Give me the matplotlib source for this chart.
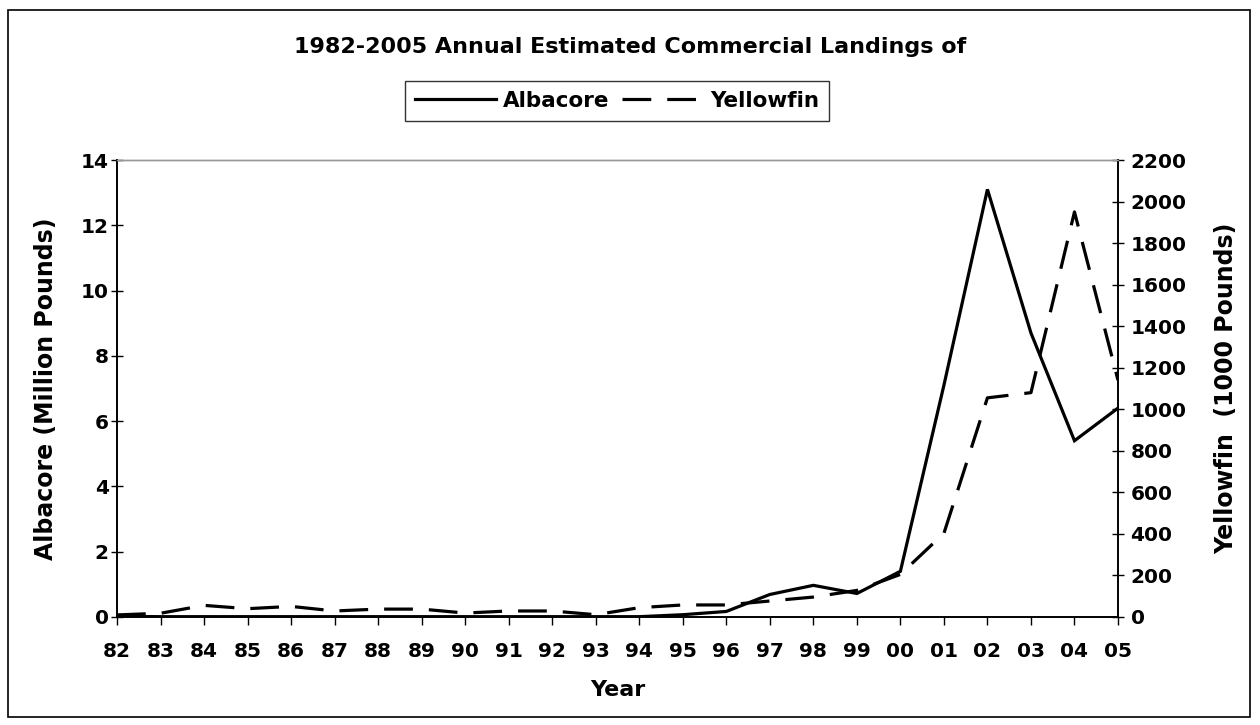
import matplotlib
matplotlib.use('Agg')
import matplotlib.pyplot as plt
from matplotlib.patches import Rectangle

years = ['82', '83', '84', '85', '86', '87', '88', '89', '90', '91', '92', '93',
         '94', '95', '96', '97', '98', '99', '00', '01', '02', '03', '04', '05']
# Albacore, million pounds
albacore = [0.02, 0.01, 0.01, 0.01, 0.01, 0.01, 0.01, 0.01, 0.01, 0.01, 0.01, 0.01,
            0.01, 0.07, 0.17, 0.69, 0.97, 0.72, 1.4, 7.1, 13.1, 8.7, 5.4, 6.4]
# Yellowfin, 1000 pounds
yellowfin = [10, 18, 56, 40, 51, 29, 38, 38, 19, 29, 29, 11,
             45, 58, 58, 77, 96, 128, 205, 403, 1055, 1080, 1950, 1140]

plt.rcParams['font.family'] = 'DejaVu Sans'
plt.rcParams['font.weight'] = 'bold'

fig = plt.figure(figsize=(12.6, 7.25), dpi=100)
ax = fig.add_axes([117/1260, 1-617/725, (1118-117)/1260, (617-160)/725])
ax2 = ax.twinx()

x = list(range(len(years)))
l1, = ax.plot(x, albacore, color='black', lw=2.3, solid_joinstyle='miter')
l2, = ax2.plot(x, yellowfin, color='black', lw=2.3, dashes=(9, 5))

ax.set_xlim(0, len(years) - 1)
ax.set_ylim(0, 14)
ax2.set_ylim(0, 2200)
ax.set_yticks(range(0, 15, 2))
ax2.set_yticks(range(0, 2201, 200))
ax.set_xticks(x)
ax.set_xticklabels(years)

for a in (ax, ax2):
    a.tick_params(labelsize=14.5, width=1, length=8, direction='inout', pad=5)
    a.spines['top'].set_color('#999999')
    a.spines['top'].set_linewidth(1)
    for s in ('left', 'right', 'bottom'):
        a.spines[s].set_linewidth(1.2)
ax.tick_params(axis='x', direction='out', length=6, pad=12)
ax.tick_params(axis='y', pad=2)
for lab in ax.get_xticklabels() + ax.get_yticklabels() + ax2.get_yticklabels():
    lab.set_fontweight('bold')

ax.set_ylabel('Albacore (Million Pounds)', fontsize=17, fontweight='bold', labelpad=16)
ax2.set_ylabel('Yellowfin  (1000 Pounds)', fontsize=17, fontweight='bold', labelpad=20)
ax.set_xlabel('Year', fontsize=16, fontweight='bold', labelpad=14)

fig.text(630/1260, 1-47/725, '1982-2005 Annual Estimated Commercial Landings of',
         ha='center', va='center', fontsize=16, fontweight='bold')

leg = fig.legend([l1, l2], ['Albacore', 'Yellowfin'], loc='center',
                 bbox_to_anchor=(617/1260, 1-101/725), ncol=2, fancybox=False,
                 edgecolor='black', handlelength=3.8,
                 columnspacing=0.6, handletextpad=0.3, borderpad=0.45,
                 prop={'weight': 'bold', 'size': 15.5})
leg.get_frame().set_linewidth(1)

fig.patches.append(Rectangle((8/1260, 8/725), 1242/1260, 707/725,
                             transform=fig.transFigure, fill=False,
                             edgecolor='black', lw=1.2))

fig.savefig('out.png', dpi=100)
